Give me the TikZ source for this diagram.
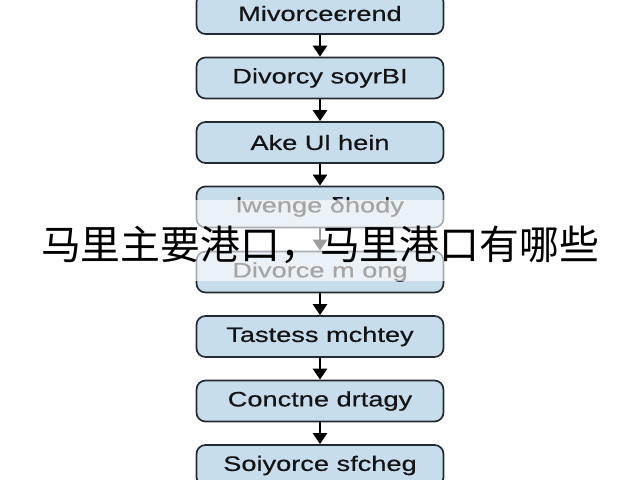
\documentclass[tikz,border=0pt]{standalone}
\usepackage{fontspec}
\setmainfont{Liberation Sans}
\newfontfamily\boxfont[FakeStretch=1.3, FakeBold=0.5]{Liberation Sans}
\newfontfamily\cjkfont{Noto Sans CJK SC}
\usetikzlibrary{arrows.meta}

\begin{document}
\begin{tikzpicture}[x=1bp, y=-1bp,
  stepbox/.style={rectangle, rounded corners=9bp, draw=boxline, line width=1.7bp,
    fill=boxfill, minimum width=247bp, minimum height=41bp, inner sep=0pt,
    text=boxtext, font=\boxfont\fontsize{21}{24}\selectfont},
  flow/.style={-{Triangle[width=14bp, length=11bp]}, line width=2.6bp, draw=black}]
  % Define colors
  \definecolor{boxfill}{RGB}{200,221,235}
  \definecolor{boxline}{RGB}{35,42,50}
  \definecolor{boxtext}{RGB}{20,20,22}

  % Frame of the picture
  \useasboundingbox (0,0) rectangle (640,480);
  \fill[white] (0,0) rectangle (640,480);

  % Flow steps (one box per step)
  \foreach \i/\y/\data in {
    1/13.5/Mivorceєrend,
    2/78/Divorcy soyrBI,
    3/142.5/Ake Ul hein,
    4/207/lwenge δhody,
    5/272/Divorce m ong,
    6/336.5/Tastess mchtey,
    7/401/Conctne drtagy,
    8/465.5/Soiyorce sfcheg
  } {
    \node[stepbox] (box\i) at (320, \y) {\data};
  }

  % Arrows from each step to the next one
  \foreach \i/\j in {1/2, 2/3, 3/4, 4/5, 5/6, 6/7, 7/8} {
    \draw[flow] (box\i.south) -- (box\j.north);
  }

  % White banner across the middle with the title
  \fill[white, opacity=0.62] (0,200) rectangle (640,281);
  \node[font=\cjkfont\fontsize{40}{44}\selectfont, text=black, inner sep=0pt]
    (title) at (320, 245) {马里主要港口，马里港口有哪些};

\end{tikzpicture}
\end{document}
